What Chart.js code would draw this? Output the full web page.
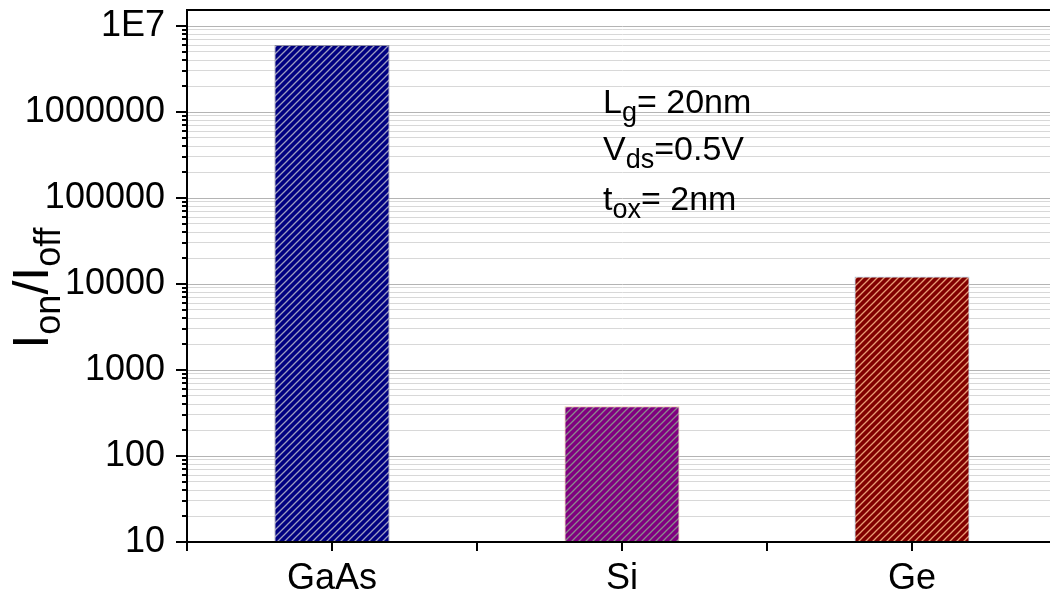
<!DOCTYPE html>
<html>
<head>
<meta charset="utf-8">
<script src="https://cdn.jsdelivr.net/npm/chart.js@4"></script>
<style>
  html, body { margin: 0; padding: 0; background: #fff; overflow: hidden; }
  #wrap { width: 1060px; height: 597px; }
</style>
</head>
<body>
<div id="wrap"><canvas id="myChart"></canvas></div>
<script>
// Ion/Ioff ratio per channel material
const materials = ['GaAs', 'Si', 'Ge'];
const onOffRatio = [6.0e6, 380, 12200];

// log axis decades and their labels
const decades = [10, 100, 1000, 10000, 100000, 1000000, 10000000];
const decadeLabels = ['10', '100', '1000', '10000', '100000', '1000000', '1E7'];

// hatched fills
const barColors = ['#000080', '#800080', '#800000'];
const stripeColors = ['#9c9cc0', '#8a8a8a', '#e89a74'];
const edgeColors = ['#8a8aa0', '#f2c8a8', '#a8d4ee'];

// device parameters, [text, isSubscript]
const noteLines = [
  [['L', 0], ['g', 1], ['= 20nm', 0]],
  [['V', 0], ['ds', 1], ['=0.5V', 0]],
  [['t', 0], ['ox', 1], ['= 2nm', 0]]
];
const yTitle = [['I', 0], ['on', 1], ['/I', 0], ['off', 1]];

const FONT = '"Liberation Sans", Arial, sans-serif';

function makeHatch(bg, fg) {
  const s = 7;
  const c = document.createElement('canvas');
  c.width = s; c.height = s;
  const g = c.getContext('2d');
  g.fillStyle = bg;
  g.fillRect(0, 0, s, s);
  g.strokeStyle = fg;
  g.lineWidth = 1.3;
  g.beginPath();
  g.moveTo(0, s); g.lineTo(s, 0);
  g.moveTo(-1, 1); g.lineTo(1, -1);
  g.moveTo(s - 1, s + 1); g.lineTo(s + 1, s - 1);
  g.stroke();
  return g.createPattern(c, 'repeat');
}

// draws a run of text pieces with subscripts starting at x, baseline y
function drawRich(ctx, parts, x, y, size, subSize, subDrop) {
  ctx.textAlign = 'left';
  ctx.textBaseline = 'alphabetic';
  parts.forEach(([txt, sub]) => {
    ctx.font = (sub ? subSize : size) + 'px ' + FONT;
    ctx.fillText(txt, x, sub ? y + subDrop : y);
    x += ctx.measureText(txt).width;
  });
  return x;
}

function richWidth(ctx, parts, size, subSize) {
  let w = 0;
  parts.forEach(([txt, sub]) => {
    ctx.font = (sub ? subSize : size) + 'px ' + FONT;
    w += ctx.measureText(txt).width;
  });
  return w;
}

const line = (ctx, x1, y1, x2, y2) => {
  ctx.beginPath();
  ctx.moveTo(x1, y1);
  ctx.lineTo(x2, y2);
  ctx.stroke();
};

const extras = {
  id: 'extras',
  afterDraw(chart) {
    const ctx = chart.ctx;
    const area = chart.chartArea;
    const xs = chart.scales.x;
    const ys = chart.scales.y;
    ctx.save();
    ctx.strokeStyle = '#000';
    ctx.lineWidth = 2;
    // top frame
    line(ctx, area.left - 1, area.top, area.right, area.top);
    // y tick marks, long on decades
    ys.ticks.forEach(t => {
      const py = Math.round(ys.getPixelForValue(t.value));
      const len = decades.includes(t.value) ? 11 : 5;
      line(ctx, area.left - len, py, area.left, py);
    });
    // x tick marks at category centres and between
    for (let i = -0.5; i <= materials.length - 0.5; i += 0.5) {
      const px = Math.round(xs.getPixelForValue(i));
      line(ctx, px, area.bottom, px, area.bottom + 9);
    }
    ctx.fillStyle = '#000';
    // parameter notes
    const baselines = [113, 160, 210];
    noteLines.forEach((parts, i) => drawRich(ctx, parts, 603, baselines[i], 34, 27, 8));
    // rotated y title
    ctx.translate(48, 288);
    ctx.rotate(-Math.PI / 2);
    const w = richWidth(ctx, yTitle, 50, 36);
    drawRich(ctx, yTitle, -w / 2, 0, 50, 36, 12);
    ctx.restore();
  }
};

const ctx = document.getElementById('myChart').getContext('2d');
const myChart = new Chart(ctx, {
  type: 'bar',
  data: {
    labels: materials,
    datasets: [{
      data: onOffRatio,
      backgroundColor: barColors.map((c, i) => makeHatch(c, stripeColors[i])),
      borderColor: edgeColors,
      borderWidth: 1,
      barPercentage: 0.397,
      categoryPercentage: 1
    }]
  },
  options: {
    responsive: true,
    maintainAspectRatio: false,
    animation: false,
    layout: { padding: { top: 10, right: 3, left: 0, bottom: 0 } },
    plugins: {
      legend: { display: false },
      tooltip: { enabled: false }
    },
    scales: {
      x: {
        offset: true,
        grid: { display: false, drawTicks: false },
        border: { display: true, color: '#000', width: 2, z: 1 },
        ticks: {
          color: '#000',
          padding: 15,
          font: { family: FONT, size: 36 }
        },
        afterFit(scale) {
          scale.height = 55;
          scale.paddingLeft = 0;
          scale.paddingRight = 0;
        }
      },
      y: {
        type: 'logarithmic',
        min: 10,
        max: 1.535e7,
        border: { display: true, color: '#000', width: 2, z: 1 },
        grid: {
          drawTicks: false,
          lineWidth: 1,
          color: c => (c.tick && decades.includes(c.tick.value)) ? '#b4b4b4' : '#d8d8d8'
        },
        ticks: {
          autoSkip: false,
          color: '#000',
          padding: 22,
          font: { family: FONT, size: 36 },
          callback: v => {
            const k = decades.indexOf(v);
            return k >= 0 ? decadeLabels[k] : '';
          }
        },
        afterBuildTicks(scale) {
          const list = [];
          decades.forEach((p, k) => {
            if (k === decades.length - 1) {
              list.push({ value: p });
              return;
            }
            for (let m = 1; m < 10; m++) list.push({ value: m * p });
          });
          scale.ticks = list;
        },
        afterFit(scale) {
          scale.width = 187;
          scale.paddingTop = 0;
          scale.paddingBottom = 0;
        }
      }
    }
  },
  plugins: [extras]
});
</script>
</body>
</html>
